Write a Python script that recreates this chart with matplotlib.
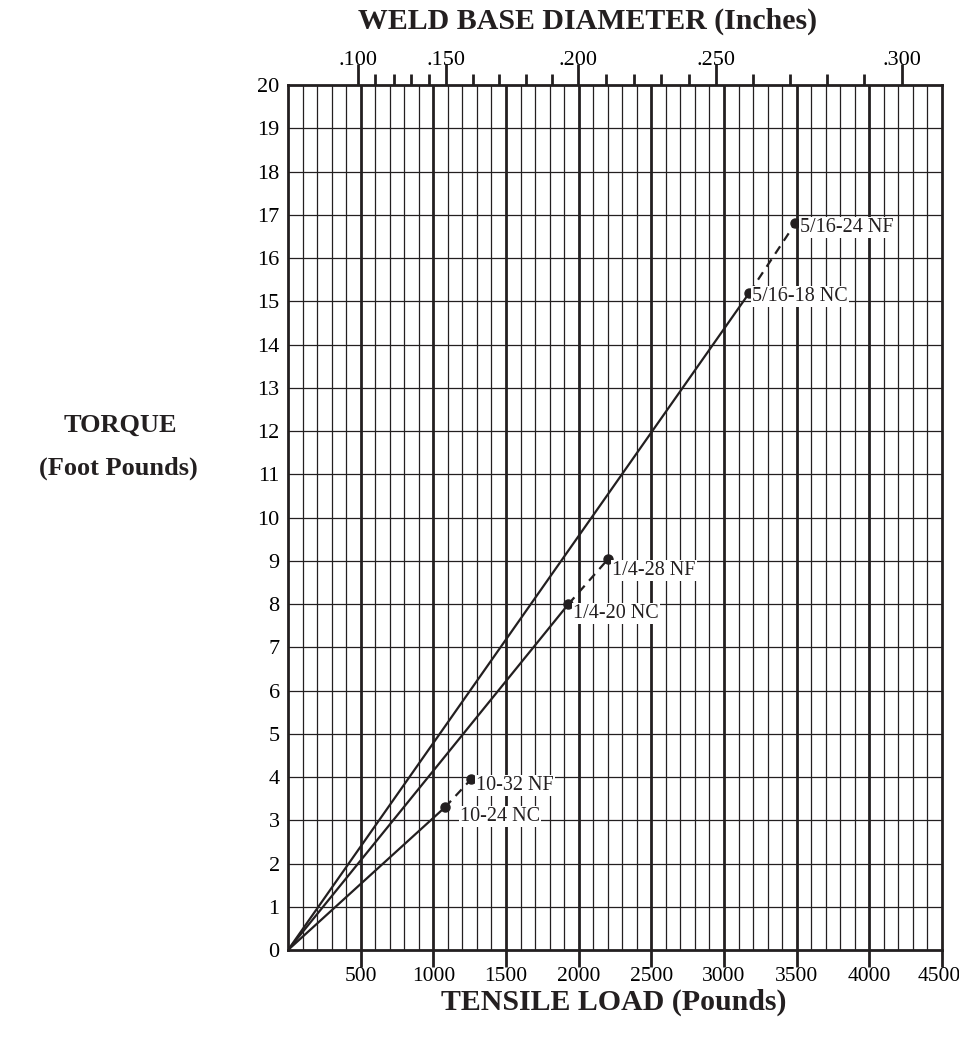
import numpy as np
import matplotlib.pyplot as plt
import matplotlib.transforms as mtransforms

plt.rcParams["font.family"] = ["Liberation Serif", "DejaVu Serif"]

INK = "#231f20"

# tensile load (lb) vs torque (ft-lb) at the end of each thread size
coarse_names = ["10-24 NC", "1/4-20 NC", "5/16-18 NC"]
coarse_load = [1080, 1930, 3175]
coarse_torque = [3.3, 8.0, 15.2]
fine_names = ["10-32 NF", "1/4-28 NF", "5/16-24 NF"]
fine_load = [1260, 2205, 3490]
fine_torque = [3.95, 9.05, 16.8]

# weld base diameter scale on the top edge, placed by tensile load
diameters = [0.100, 0.110, 0.120, 0.130, 0.140, 0.150, 0.160, 0.170, 0.180, 0.190,
             0.200, 0.210, 0.220, 0.230, 0.240, 0.250, 0.260, 0.270, 0.280, 0.290, 0.300]
diameter_load = [485, 600, 728, 848, 968, 1085, 1270, 1452, 1636, 1815,
                 1995, 2190, 2383, 2568, 2756, 2944, 3201, 3455, 3709, 3965, 4225]
diameter_labels = [".100", ".150", ".200", ".250", ".300"]

load_ticks = [500, 1000, 1500, 2000, 2500, 3000, 3500, 4000, 4500]
torque_ticks = list(range(0, 21))

# label offsets from the dots (px)
coarse_offsets = [(15, -9), (5, -9), (3, -4)]
fine_offsets = [(5, -6), (4, -12), (5, -4)]

fig = plt.figure(figsize=(9.59, 10.4), dpi=100)
ax = fig.add_axes([0.3003, 0.0865, 0.682, 0.8317])
ax.set_xlim(0, 4500)
ax.set_ylim(0, 20)

# chart grid: thin every 100 lb / 1 ft-lb, heavy every 500 lb
for x in range(100, 4500, 100):
    lw = 2.0 if x % 500 == 0 else 0.9
    ax.axvline(x, color=INK, lw=lw, zorder=1)
for y in range(1, 20):
    ax.axhline(y, color=INK, lw=0.9, zorder=1)

for s in ax.spines.values():
    s.set_linewidth(2.0)
    s.set_color(INK)

ax.set_xticks(load_ticks)
ax.set_xticklabels([str(v) for v in load_ticks])
ax.tick_params(axis="x", length=12, width=2.0, color=INK, labelsize=15.5, pad=0)
ax.set_yticks(torque_ticks)
ax.set_yticklabels([str(v) for v in torque_ticks])
ax.tick_params(axis="y", length=0, labelsize=16, pad=6)

# keep the last load label inside the figure edge
last = ax.get_xticklabels()[-1]
last.set_transform(last.get_transform() +
                   mtransforms.ScaledTranslation(-3 / 100, 0, fig.dpi_scale_trans))

# top diameter scale
top = ax.twiny()
top.set_xlim(ax.get_xlim())
major_idx = [diameters.index(d) for d in (0.100, 0.150, 0.200, 0.250, 0.300)]
minor_idx = [i for i in range(len(diameters)) if i not in major_idx]
top.set_xticks([diameter_load[i] for i in major_idx])
top.set_xticklabels(diameter_labels)
top.set_xticks([diameter_load[i] for i in minor_idx], minor=True)
top.tick_params(axis="x", which="major", length=15, width=2.0, color=INK, labelsize=16, pad=-4)
top.tick_params(axis="x", which="minor", length=8, width=2.0, color=INK)
for s in top.spines.values():
    s.set_visible(False)

# solid lines from the origin, dashed extension to the fine thread
for cl, ct, fl, ft in zip(coarse_load, coarse_torque, fine_load, fine_torque):
    ax.plot([0, cl], [0, ct], color=INK, lw=1.6, zorder=3, solid_capstyle="butt")
    ax.plot([cl, fl], [ct, ft], color=INK, lw=1.6, ls=(0, (4, 3)), zorder=3)
    ax.plot([cl, fl], [ct, ft], "o", color=INK, ms=6.5, zorder=4)

for name, xv, yv, off in zip(coarse_names + fine_names, coarse_load + fine_load,
                             coarse_torque + fine_torque, coarse_offsets + fine_offsets):
    ax.annotate(name, (xv, yv), xytext=(off[0] * 0.72, off[1] * 0.72),
                textcoords="offset points", ha="left", va="center", fontsize=14.5,
                color=INK, zorder=5,
                bbox=dict(boxstyle="square,pad=0.05", fc="white", ec="none"))

fig.text(588 / 959, 1 - 21 / 1040, "WELD BASE DIAMETER (Inches)", ha="center", va="center",
         fontsize=21.5, fontweight="bold", color=INK)
fig.text(614 / 959, 1 - 1002 / 1040, "TENSILE LOAD (Pounds)", ha="center", va="center",
         fontsize=21.5, fontweight="bold", color=INK)
fig.text(120 / 959, 1 - 425 / 1040, "TORQUE", ha="center", va="center",
         fontsize=19, fontweight="bold", color=INK)
fig.text(118 / 959, 1 - 468 / 1040, "(Foot Pounds)", ha="center", va="center",
         fontsize=19, fontweight="bold", color=INK)

fig.savefig("out.png", dpi=100)
